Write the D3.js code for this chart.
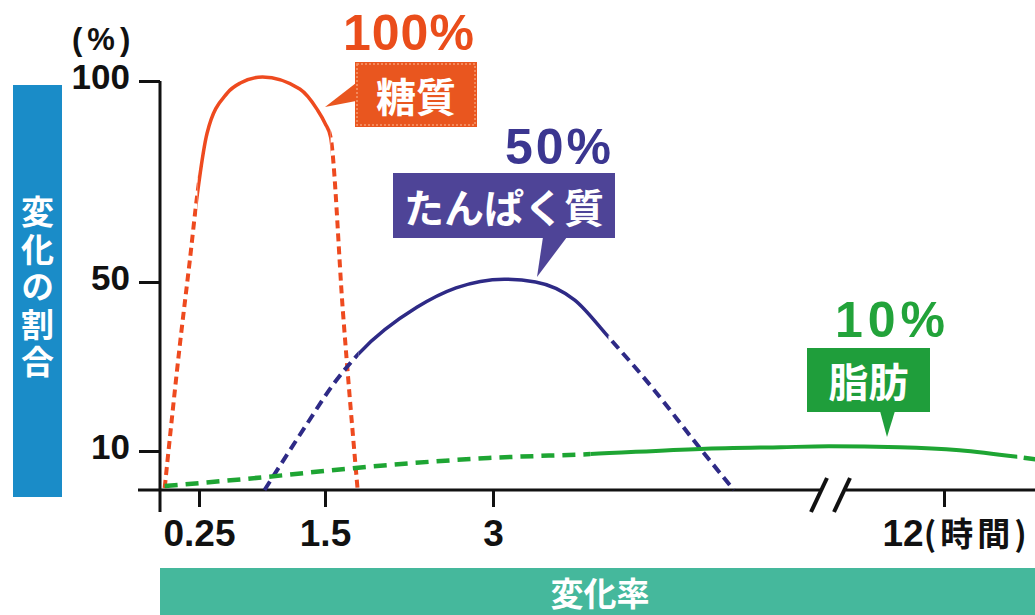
<!DOCTYPE html>
<html>
<head>
<meta charset="utf-8">
<script src="https://cdn.jsdelivr.net/npm/d3@7"></script>
<style>
  html, body { margin: 0; padding: 0; background: #fff; }
  svg { display: block; }
  .num { font-family: "Liberation Sans", Arial, sans-serif; font-weight: bold; }
  .jp { font-family: "Noto Sans CJK JP", sans-serif; font-weight: bold; }
</style>
</head>
<body>
<div id="chart"></div>
<script>
// hours after a meal vs. share of the nutrient turned into blood sugar (%)
const carbHours = [0.03, 0.13, 0.19, 0.24, 0.33, 0.53, 0.66, 0.88, 1.25, 1.42, 1.5, 1.55, 1.66, 1.79];
const carbValues = [0.5, 36, 55, 72, 87, 97, 99.5, 101, 98, 93, 89.5, 86, 43, 0.5];

const proteinHours = [0.9, 1.31, 1.58, 1.8, 2.32, 2.67, 3.1, 3.38, 3.73, 4.03, 4.44, 4.79, 5.15];
const proteinValues = [0, 16, 26, 33, 44, 48.6, 50.7, 50, 45.7, 37, 24.4, 12.6, 0];

const fatHours = [0.03, 0.9, 1.75, 2.96, 3.87, 4.85, 5.57, 6, 11.6, 12.14, 12.66, 12.86];
const fatValues = [1, 3.3, 5.6, 8.2, 9.2, 10.5, 10.9, 11.1, 10.9, 10.2, 8.5, 7.7];

// part of each curve drawn solid (hours), the rest dashed
const solidRanges = [[0.24, 1.55], [1.8, 4.03], [3.87, 12.66]];

const seriesNames = ['糖質', 'たんぱく質', '脂肪'];
const seriesPeaks = ['100%', '50%', '10%'];

const yTicks = [10, 50, 100];
const xTicks = [0.25, 1.5, 3, 12];
const xTickLabels = ['0.25', '1.5', '3', '12'];

const width = 1035, height = 615;

const svg = d3.select('#chart').append('svg')
    .attr('width', width)
    .attr('height', height);

// the axis is not linear: short start, then a break between 6 and 11 hours
const x = d3.scaleLinear()
    .domain([0, 0.25, 1.5, 3, 6, 11, 12, 13])
    .range([160, 199, 325, 493, 829, 833, 944, 1055]);

const y = d3.scaleLinear()
    .domain([0, 10, 50, 100])
    .range([490, 451, 282, 81]);

const series = [
    {hours: carbHours, values: carbValues, color: '#ee4a1f', dash: '8,5', w: 3.5},
    {hours: proteinHours, values: proteinValues, color: '#2e2a86', dash: '10,6', w: 3.5},
    {hours: fatHours, values: fatValues, color: '#1ea533', dash: '13,8', w: 4}
];

// axis titles
svg.append('rect')
    .attr('x', 13).attr('y', 85)
    .attr('width', 49).attr('height', 412)
    .attr('fill', '#1a8cc8');

svg.append('text')
    .attr('class', 'jp')
    .attr('x', 37.5)
    .attr('y', 289)
    .attr('text-anchor', 'middle')
    .style('writing-mode', 'vertical-rl')
    .style('text-orientation', 'upright')
    .attr('font-size', 33)
    .attr('letter-spacing', 4.5)
    .attr('fill', '#fff')
    .text('変化の割合');

svg.append('rect')
    .attr('x', 160).attr('y', 568)
    .attr('width', 875).attr('height', 47)
    .attr('fill', '#45b89c');

svg.append('text')
    .attr('class', 'jp')
    .attr('x', 600).attr('y', 592)
    .attr('text-anchor', 'middle')
    .attr('dominant-baseline', 'central')
    .attr('font-size', 33)
    .attr('fill', '#fff')
    .text('変化率');

// axes
const axis = svg.append('g').attr('stroke', '#111').attr('stroke-width', 3);

const breakLeft = x(6) - 7, breakRight = x(11) + 13;
axis.append('line').attr('x1', 160).attr('x2', 160).attr('y1', y(100)).attr('y2', 512);
axis.append('line').attr('x1', 138).attr('x2', breakLeft).attr('y1', y(0)).attr('y2', y(0));
axis.append('line').attr('x1', breakRight).attr('x2', width).attr('y1', y(0)).attr('y2', y(0));

const breakMid = (x(6) + x(11)) / 2;
axis.selectAll('line.brk')
    .data([-12, 11])
    .join('line')
    .attr('class', 'brk')
    .attr('x1', d => breakMid + d - 8).attr('y1', 512)
    .attr('x2', d => breakMid + d + 8).attr('y2', 478)
    .attr('stroke-width', 4);

const yAxis = svg.append('g')
    .attr('transform', 'translate(160,0)')
    .call(d3.axisLeft(y).tickValues(yTicks).tickSize(21).tickPadding(9));
yAxis.select('.domain').remove();
yAxis.selectAll('.tick line').attr('stroke', '#111').attr('stroke-width', 3);
yAxis.selectAll('.tick text')
    .attr('class', 'num')
    .attr('font-size', 35)
    .attr('fill', '#111')
    .attr('dy', '0.22em');

const xAxis = svg.append('g')
    .attr('transform', `translate(0,${y(0)})`)
    .call(d3.axisBottom(x).tickValues(xTicks).tickSize(17).tickPadding(13)
        .tickFormat((d, i) => xTickLabels[i]));
xAxis.select('.domain').remove();
xAxis.selectAll('.tick line').attr('stroke', '#111').attr('stroke-width', 3);
xAxis.selectAll('.tick text')
    .attr('class', 'num')
    .attr('font-size', 37)
    .attr('fill', '#111');

// last tick carries the unit
const lastTick = xAxis.selectAll('.tick text').filter(d => d === 12);
lastTick.attr('text-anchor', 'start').attr('x', -62);
lastTick.append('tspan')
    .attr('class', 'jp')
    .attr('font-size', 33)
    .attr('letter-spacing', 4)
    .text('(時間)');

svg.append('text')
    .attr('class', 'num')
    .attr('x', 72).attr('y', 50)
    .attr('font-size', 31)
    .attr('letter-spacing', 5)
    .attr('fill', '#111')
    .text('(%)');

// curves
const line = d3.line()
    .x(d => x(d[0]))
    .y(d => y(d[1]))
    .curve(d3.curveMonotoneX);

const defs = svg.append('defs');

series.forEach((s, i) => {
    const pts = s.hours.map((h, j) => [h, s.values[j]]);
    const [from, to] = solidRanges[i];
    const x0 = x(from), x1 = x(to);

    defs.append('clipPath').attr('id', `solid-${i}`)
        .append('rect')
        .attr('x', x0).attr('y', 0)
        .attr('width', x1 - x0).attr('height', height);

    const dashClip = defs.append('clipPath').attr('id', `dash-${i}`);
    dashClip.append('rect').attr('x', 0).attr('y', 0).attr('width', x0).attr('height', height);
    dashClip.append('rect').attr('x', x1).attr('y', 0).attr('width', width - x1).attr('height', height);

    svg.append('path')
        .datum(pts)
        .attr('d', line)
        .attr('fill', 'none')
        .attr('stroke', s.color)
        .attr('stroke-width', s.w + 0.5)
        .attr('stroke-dasharray', s.dash)
        .attr('clip-path', `url(#dash-${i})`);

    svg.append('path')
        .datum(pts)
        .attr('d', line)
        .attr('fill', 'none')
        .attr('stroke', s.color)
        .attr('stroke-width', s.w)
        .attr('stroke-linecap', 'round')
        .attr('clip-path', `url(#solid-${i})`);
});

// callouts
const callouts = [
    {box: [355, 62, 122, 65], tip: [[356, 83], [325, 107], [356, 101]],
        fill: '#e9561f', text: '#ea4d1b', pctX: 343, pctY: 50, ls: 1, edge: '#f59a72'},
    {box: [393, 173, 222, 65], tip: [[543, 237], [537, 277], [567, 237]],
        fill: '#4e4497', text: '#3b3690', pctX: 505, pctY: 164, ls: 3, edge: null},
    {box: [807, 348, 123, 64], tip: [[880, 411], [887, 437], [895, 411]],
        fill: '#1f9e3b', text: '#22a33a', pctX: 835, pctY: 337, ls: 5, edge: null}
];

callouts.forEach((c, i) => {
    const [bx, by, bw, bh] = c.box;
    svg.append('path')
        .attr('d', d3.line()(c.tip) + 'Z')
        .attr('fill', c.fill);
    svg.append('rect')
        .attr('x', bx).attr('y', by)
        .attr('width', bw).attr('height', bh)
        .attr('fill', c.fill);
    if (c.edge) {
        svg.append('rect')
            .attr('x', bx + 2).attr('y', by + 2)
            .attr('width', bw - 4).attr('height', bh - 4)
            .attr('fill', 'none')
            .attr('stroke', c.edge)
            .attr('stroke-width', 1.5)
            .attr('stroke-dasharray', '2,2');
    }
    svg.append('text')
        .attr('class', 'jp')
        .attr('x', bx + bw / 2).attr('y', by + bh / 2)
        .attr('text-anchor', 'middle')
        .attr('dominant-baseline', 'central')
        .attr('font-size', 40)
        .attr('fill', '#fff')
        .text(seriesNames[i]);
    svg.append('text')
        .attr('class', 'num')
        .attr('x', c.pctX).attr('y', c.pctY)
        .attr('font-size', 50)
        .attr('letter-spacing', c.ls)
        .attr('fill', c.text)
        .text(seriesPeaks[i]);
});
</script>
</body>
</html>
